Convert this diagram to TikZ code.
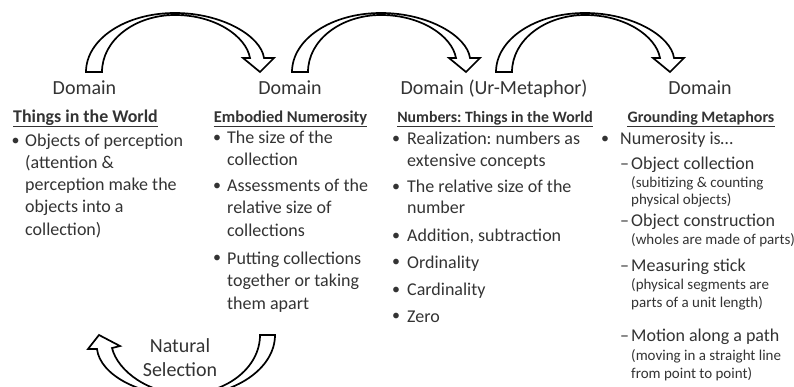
\documentclass[tikz,border=0pt]{standalone}
\usepackage{fontspec}
\setmainfont{Carlito}
\usetikzlibrary{calc}
\definecolor{tc}{HTML}{333333}
\frenchspacing
\begin{document}
\begin{tikzpicture}[x=1pt,y=-1pt,
  dom/.style={font=\fontsize{20}{24}\selectfont, anchor=base, inner sep=0, text=tc},
  ttl/.style={font=\bfseries\fontsize{#1}{#1}\selectfont, anchor=base, inner sep=0, text=tc},
  ln/.style={font=\fontsize{18}{22}\selectfont, anchor=base west, inner sep=0, text=tc},
  sm/.style={font=\fontsize{15}{17}\selectfont, anchor=base west, inner sep=0, text=tc},
  bul/.style={font=\fontsize{16}{22}\selectfont, anchor=base, inner sep=0, text=tc, yshift=1.5pt},
  ul/.style={draw=tc, line width=1.2pt},
  arr/.style={draw=black, line width=1.7pt, fill=white, line join=miter},
  curvarr/.pic={
    \draw[arr] (0,0) .. controls (0,-32.6) and (39,-59) .. (89,-59)
      .. controls (136,-59) and (175,-36) .. (178,-14)
      -- (188,-14) -- (174,0) -- (157,-14) -- (164,-14)
      .. controls (160,-36) and (129,-57) .. (89,-57)
      .. controls (49,-57) and (16,-32) .. (16,0) -- cycle;
  }]
\useasboundingbox (0,0) rectangle (794,387);
\clip (0,0) rectangle (794,387);

% curved arrows
\pic at (86,72) {curvarr};
\pic at (292,72) {curvarr};
\pic at (496,72) {curvarr};
\draw[arr] (275,335) .. controls (275,368.7) and (234.7,396) .. (185,396)
  .. controls (140,396) and (100,375) .. (97,349)
  -- (88,349) -- (99,335) -- (120,346) -- (112,348)
  .. controls (118,372) and (150,394) .. (185,394)
  .. controls (226,394) and (260,368) .. (260,335) -- cycle;

% Domains
\node[dom] (d1) at (84.5,95) {Domain};
\node[dom] (d2) at (290,95) {Domain};
\node[dom] (d3) at (494,95) {Domain (Ur-Metaphor)};
\node[dom] (d4) at (700,95) {Domain};

% Titles
\node[ttl=17.9] (t1) at (85.5,122.5) {Things in the World};
\node[ttl=16.5] (t2) at (290.5,122.5) {Embodied Numerosity};
\node[ttl=15.8] (t3) at (495,122.5) {Numbers: Things in the World};
\node[ttl=16] (t4) at (701,122.5) {Grounding Metaphors};
\foreach \t in {t1,t2,t3,t4}{
  \draw[ul] ($(\t.base west)+(0,4.3)$) -- ($(\t.base east)+(0,4.3)$);
}

% Column 1
\node[bul] (b1a) at (15.5,147) {•};
\node[ln] (l1a) at (25,147) {Objects of perception};
\node[ln] (l1b) at (25,169) {(attention \&};
\node[ln] (l1c) at (25,191) {perception make the};
\node[ln] (l1d) at (25,213) {objects into a};
\node[ln] (l1e) at (25,236) {collection)};

% Column 2
\node[bul] (b2a) at (217,144) {•};
\node[ln] (l2a) at (227,144) {The size of the};
\node[ln] (l2b) at (227,166) {collection};
\node[bul] (b2b) at (217,192) {•};
\node[ln] (l2c) at (227,192) {Assessments of the};
\node[ln] (l2d) at (227,214) {relative size of};
\node[ln] (l2e) at (227,236.5) {collections};
\node[bul] (b2c) at (217,264) {•};
\node[ln] (l2f) at (227,264) {Putting collections};
\node[ln] (l2g) at (227,286.5) {together or taking};
\node[ln] (l2h) at (227,309) {them apart};

% Column 3
\node[bul] (b3a) at (396,145) {•};
\node[ln] (l3a) at (407,145) {Realization: numbers as};
\node[ln] (l3b) at (407,166.7) {extensive concepts};
\node[bul] (b3b) at (396,192.7) {•};
\node[ln] (l3c) at (407,192.7) {The relative size of the};
\node[ln] (l3d) at (407,214) {number};
\node[bul] (b3c) at (396,241.7) {•};
\node[ln] (l3e) at (407,241.7) {Addition, subtraction};
\node[bul] (b3d) at (396,268.3) {•};
\node[ln] (l3f) at (407,268.3) {Ordinality};
\node[bul] (b3e) at (396,295.7) {•};
\node[ln] (l3g) at (407,295.7) {Cardinality};
\node[bul] (b3f) at (396,322.3) {•};
\node[ln] (l3h) at (407,322.3) {Zero};

% Column 4
\node[bul] (b4a) at (605,145) {•};
\node[ln] (l4a) at (620,145) {Numerosity is…};
\node[ln] (h4a) at (620,170) {–};
\node[ln] (l4b) at (631,170) {Object collection};
\node[sm] (s4a) at (631,188) {(subitizing \& counting};
\node[sm] (s4b) at (631,205) {physical objects)};
\node[ln] (h4b) at (620,226) {–};
\node[ln] (l4c) at (631,226) {Object construction};
\node[sm] (s4c) at (631,244) {(wholes are made of parts)};
\node[ln] (h4c) at (620,271.7) {–};
\node[ln] (l4d) at (631,271.7) {Measuring stick};
\node[sm] (s4d) at (631,289) {(physical segments are};
\node[sm] (s4e) at (631,307) {parts of a unit length)};
\node[ln] (h4d) at (620,341.7) {–};
\node[ln] (l4e) at (631,341.7) {Motion along a path};
\node[sm] (s4f) at (631,360.7) {(moving in a straight line};
\node[sm] (s4g) at (631,378) {from point to point)};

% Natural selection
\node[dom] (ns1) at (180,352) {Natural};
\node[dom] (ns2) at (180,376) {Selection};
\end{tikzpicture}
\end{document}
